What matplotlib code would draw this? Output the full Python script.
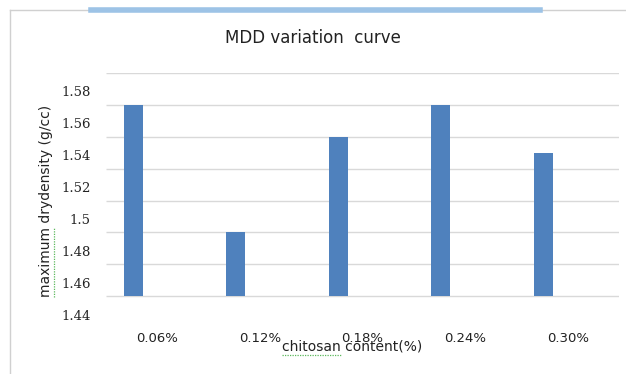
import numpy as np
import matplotlib
matplotlib.use("Agg")
import matplotlib.pyplot as plt
from matplotlib.lines import Line2D

# chitosan dosage vs maximum dry density
contents = ["0.06%", "0.12%", "0.18%", "0.24%", "0.30%"]
mdd = [1.58, 1.50, 1.56, 1.58, 1.55]
ytick_vals = [1.44, 1.46, 1.48, 1.50, 1.52, 1.54, 1.56, 1.58]
grid_vals = [1.46, 1.48, 1.50, 1.52, 1.54, 1.56, 1.58, 1.60]

bar_color = "#4F81BD"
grid_color = "#D9D9D9"

fig = plt.figure(figsize=(6.26, 3.74), dpi=100)
fig.patch.set_facecolor("white")
ax = fig.add_axes([0.1693, 0.1230, 0.8195, 0.6818])

x = np.arange(len(contents))
ax.set_xlim(-0.5, len(contents) - 0.5)
ax.set_ylim(1.44, 1.60)

# horizontal gridlines, the lowest one acts as the baseline
ax.hlines(grid_vals, -0.5, len(contents) - 0.5, colors=grid_color,
          linewidth=1.0, zorder=1)
ax.bar(x - 0.235, np.array(mdd) - 1.46, width=0.185, bottom=1.46,
       color=bar_color, zorder=2)

for s in ax.spines.values():
    s.set_visible(False)

ax.set_xticks(x)
ax.set_xticklabels(contents, fontsize=9.5, color="#222222")
ax.tick_params(axis="x", length=0, pad=3)
ax.set_yticks([])

# y tick labels sit a little above their gridlines
for v in ytick_vals:
    ax.annotate(f"{v:g}", xy=(0, v), xycoords=ax.get_yaxis_transform(),
                xytext=(-11, 8.6), textcoords="offset points",
                ha="right", va="center", fontsize=9.5,
                family="DejaVu Serif", color="#222222")

fig.text(0.500, 0.898, "MDD variation  curve", ha="center", va="center",
         fontsize=12, color="#222222")
ylab = fig.text(0.0735, 0.4626, "maximum drydensity (g/cc)", rotation=90,
                ha="center", va="center", fontsize=10, color="#222222")
xlab = fig.text(0.5623, 0.0722, "chitosan content(%)", ha="center",
                va="center", fontsize=10, color="#222222")

# outer frame and the blue strip on top
fig.add_artist(Line2D([10 / 626, 10 / 626], [0, 1 - 10 / 374],
                      color="#D0D0D0", linewidth=1.0,
                      transform=fig.transFigure))
fig.add_artist(Line2D([10 / 626, 1], [1 - 10 / 374, 1 - 10 / 374],
                      color="#D0D0D0", linewidth=1.0,
                      transform=fig.transFigure))
fig.add_artist(Line2D([91 / 626, 540 / 626], [1 - 9.5 / 374, 1 - 9.5 / 374],
                      color="#9DC3E6", linewidth=4.0,
                      transform=fig.transFigure))

# spell-check squiggles under "maximum" and "chitosan"
fig.canvas.draw()
inv = fig.transFigure.inverted()
bb = ylab.get_window_extent().transformed(inv)
ys = np.linspace(bb.y0, bb.y0 + 0.36 * bb.height, 40)
fig.add_artist(Line2D([bb.x1 + 0.002] * len(ys), ys, color="#5CB85C",
                      linewidth=0.9, linestyle=(0, (1, 1)),
                      transform=fig.transFigure))
bb = xlab.get_window_extent().transformed(inv)
xs = np.linspace(bb.x0, bb.x0 + 0.43 * bb.width, 40)
fig.add_artist(Line2D(xs, [bb.y0 - 0.003] * len(xs), color="#5CB85C",
                      linewidth=0.9, linestyle=(0, (1, 1)),
                      transform=fig.transFigure))

fig.savefig("out.png", dpi=100)
